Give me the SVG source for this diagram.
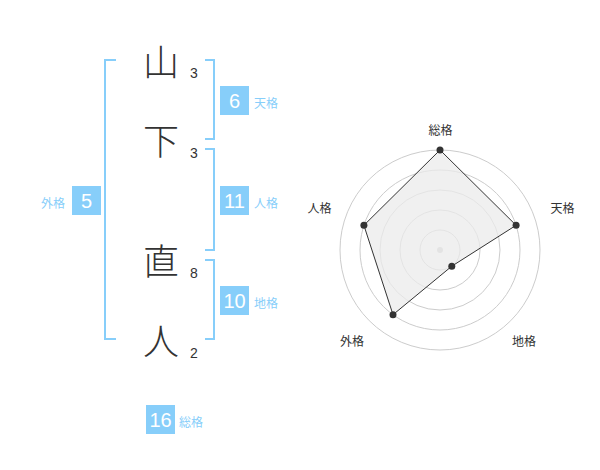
<svg xmlns="http://www.w3.org/2000/svg" width="600" height="470" viewBox="0 0 600 470">
<style>
.kanji{font-family:"Noto Sans CJK JP","Noto Sans CJK SC",sans-serif;font-size:36px;font-weight:300;fill:#333;text-anchor:middle}
.stroke{font-family:"Liberation Sans",Arial,sans-serif;font-size:14px;fill:#333}
.br{fill:none;stroke:#87cefa;stroke-width:2}
.box{fill:#87cefa}
.num{font-family:"Liberation Sans",Arial,sans-serif;font-size:20px;fill:#fff;text-anchor:middle}
.lbl{font-family:"Noto Sans CJK JP","Noto Sans CJK SC",sans-serif;font-size:12px;fill:#87cefa}
.ring{fill:none;stroke:#ccc;stroke-width:1}
.ax{font-family:"Noto Sans CJK JP","Noto Sans CJK SC",sans-serif;font-size:12px;fill:#333;text-anchor:middle}
</style>
<rect width="600" height="470" fill="#fff"/>
<g id="chars">
<g id="c1"><text class="kanji" x="161" y="76">山</text><text class="stroke" x="190" y="78">3</text></g>
<g id="c2"><text class="kanji" x="161" y="155">下</text><text class="stroke" x="190" y="158">3</text></g>
<g id="c3"><text class="kanji" x="161" y="275">直</text><text class="stroke" x="190" y="278">8</text></g>
<g id="c4"><text class="kanji" x="161" y="355">人</text><text class="stroke" x="190" y="358">2</text></g>
</g>
<g id="connectors">
<polyline class="br" points="116,60 105,60 105,339 116,339"/>
<polyline class="br" points="205,60 214,60 214,139 205,139"/>
<polyline class="br" points="205,149 214,149 214,250 205,250"/>
<polyline class="br" points="205,260 214,260 214,339 205,339"/>
</g>
<g id="tenkaku"><rect class="box" x="220" y="86" width="29" height="29"/><text class="num" x="234.5" y="108">6</text><text class="lbl" x="254" y="108">天格</text></g>
<g id="jinkaku"><rect class="box" x="220" y="186" width="29" height="29"/><text class="num" x="234.5" y="208">11</text><text class="lbl" x="254" y="208">人格</text></g>
<g id="chikaku"><rect class="box" x="220" y="286" width="29" height="29"/><text class="num" x="234.5" y="308">10</text><text class="lbl" x="254" y="308">地格</text></g>
<g id="gaikaku"><rect class="box" x="72" y="186" width="29" height="29"/><text class="num" x="86.5" y="208">5</text><text class="lbl" x="41" y="208">外格</text></g>
<g id="soukaku"><rect class="box" x="146" y="405" width="29" height="29"/><text class="num" x="160.5" y="427">16</text><text class="lbl" x="179" y="427">総格</text></g>
<g id="radar">
<circle class="ring" cx="440" cy="250" r="100"/>
<circle class="ring" cx="440" cy="250" r="80"/>
<circle class="ring" cx="440" cy="250" r="60"/>
<circle class="ring" cx="440" cy="250" r="40"/>
<circle class="ring" cx="440" cy="250" r="20"/>
<circle cx="440" cy="250" r="3" fill="#ccc"/>
<polygon points="440,150 516.1,225.3 451.8,266.2 393,314.7 363.9,225.3" fill="#ebebeb" fill-opacity="0.75" stroke="#333" stroke-width="1"/>
<g fill="#333">
<circle cx="440" cy="150" r="3.5"/>
<circle cx="516.1" cy="225.3" r="3.5"/>
<circle cx="451.8" cy="266.2" r="3.5"/>
<circle cx="393" cy="314.7" r="3.5"/>
<circle cx="363.9" cy="225.3" r="3.5"/>
</g>
<text class="ax" x="440.5" y="135">総格</text>
<text class="ax" x="562.5" y="213">天格</text>
<text class="ax" x="319.5" y="213">人格</text>
<text class="ax" x="352" y="346">外格</text>
<text class="ax" x="524" y="346">地格</text>
</g>
</svg>
